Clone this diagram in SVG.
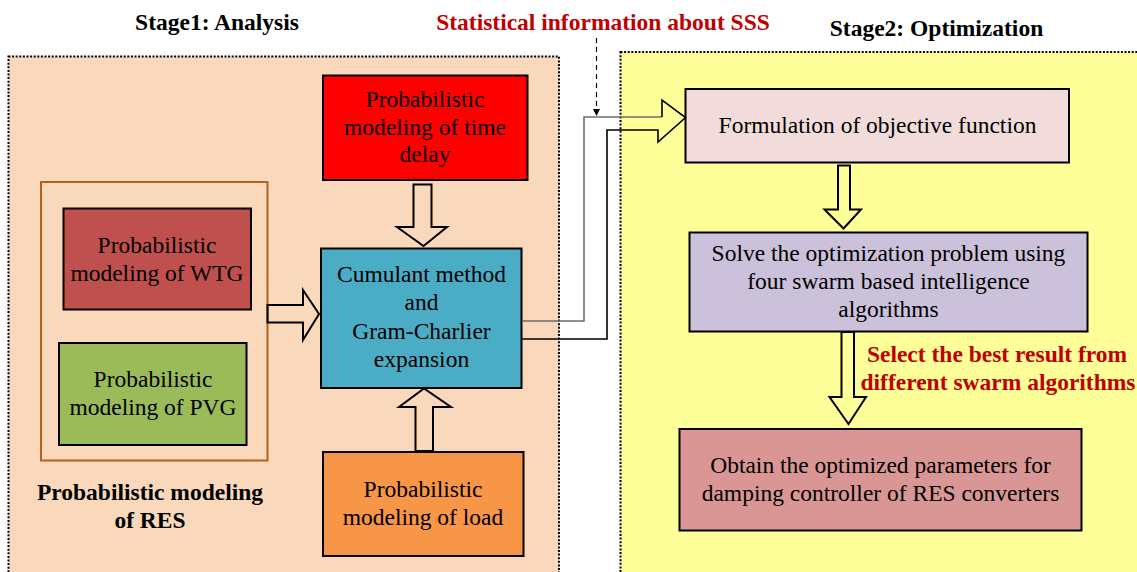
<svg xmlns="http://www.w3.org/2000/svg" width="1137" height="572" viewBox="0 0 1137 572">
  <defs>
    <style>
      .box { stroke: #000; stroke-width: 2; }
      .lbl { font-family: "Liberation Serif", "Times New Roman", serif; font-size: 23.5px; fill: #000; text-anchor: middle; }
      .ttl { font-family: "Liberation Serif", "Times New Roman", serif; font-size: 23.5px; font-weight: bold; text-anchor: middle; }
      .stage { stroke: #000; stroke-width: 2; stroke-dasharray: 2 1.6; }
      .fat { fill: none; stroke: #000; stroke-width: 2; stroke-linejoin: miter; }
      .wire { fill: none; stroke-width: 1.6; }
    </style>
    <marker id="tri" viewBox="0 0 10 10" refX="10" refY="5" markerWidth="7" markerHeight="7" markerUnits="userSpaceOnUse" orient="auto">
      <path d="M0,0 L10,5 L0,10 Z" fill="#000"/>
    </marker>
  </defs>

  <rect width="1137" height="572" fill="#fff"/>

  <!-- stage backgrounds -->
  <g id="stage1">
    <rect x="8.5" y="56.5" width="550.5" height="530" fill="#fad8bb" class="stage"/>
    <text class="ttl" x="217" y="30">Stage1: Analysis</text>
  </g>
  <g id="stage2">
    <rect x="620.5" y="52" width="530" height="540" fill="#ffff99" class="stage"/>
    <text class="ttl" x="936.5" y="36">Stage2: Optimization</text>
  </g>

  <!-- renewable energy sources group -->
  <g id="res-group">
    <rect x="41" y="182" width="226.5" height="278.5" fill="none" stroke="#b5621f" stroke-width="2"/>
    <text class="ttl" x="150" y="500">Probabilistic modeling</text>
    <text class="ttl" x="150" y="528">of RES</text>
  </g>

  <g id="wtg">
    <rect class="box" x="63.5" y="208.5" width="187.5" height="101" fill="#c0504d"/>
    <text class="lbl" x="157" y="252.5">Probabilistic</text>
    <text class="lbl" x="157" y="280.5">modeling of WTG</text>
  </g>

  <g id="pvg">
    <rect class="box" x="59" y="343" width="187.5" height="102" fill="#9bbb59"/>
    <text class="lbl" x="153" y="387">Probabilistic</text>
    <text class="lbl" x="153" y="415">modeling of PVG</text>
  </g>

  <g id="time-delay">
    <rect class="box" x="323" y="75.5" width="204.5" height="104.5" fill="#ff0000"/>
    <text class="lbl" x="425" y="107">Probabilistic</text>
    <text class="lbl" x="425" y="134.5">modeling of time</text>
    <text class="lbl" x="425" y="162">delay</text>
  </g>

  <g id="cumulant">
    <rect class="box" x="321" y="248.5" width="200.5" height="139.5" fill="#4bacc6"/>
    <text class="lbl" x="421.5" y="281.5">Cumulant method</text>
    <text class="lbl" x="421.5" y="310">and</text>
    <text class="lbl" x="421.5" y="338.5">Gram-Charlier</text>
    <text class="lbl" x="421.5" y="366.5">expansion</text>
  </g>

  <g id="load">
    <rect class="box" x="323" y="452" width="200.5" height="104" fill="#f79646"/>
    <text class="lbl" x="423" y="497">Probabilistic</text>
    <text class="lbl" x="423" y="525">modeling of load</text>
  </g>

  <g id="objective">
    <rect class="box" x="685.5" y="89" width="383.5" height="73.5" fill="#f2dcdb"/>
    <text class="lbl" x="877.5" y="133">Formulation of objective function</text>
  </g>

  <g id="solve">
    <rect class="box" x="689.5" y="232.5" width="398" height="99" fill="#ccc1da"/>
    <text class="lbl" x="888.5" y="261">Solve the optimization problem using</text>
    <text class="lbl" x="888.5" y="289">four swarm based intelligence</text>
    <text class="lbl" x="888.5" y="316.5">algorithms</text>
  </g>

  <g id="result">
    <rect class="box" x="679.5" y="429" width="402" height="101.5" fill="#d99694"/>
    <text class="lbl" x="880.5" y="473">Obtain the optimized parameters for</text>
    <text class="lbl" x="880.5" y="501">damping controller of RES converters</text>
  </g>

  <!-- annotations -->
  <g id="notes">
    <text class="ttl" x="603" y="30" fill="#c00000">Statistical information about SSS</text>
    <text class="ttl" x="997" y="362" fill="#c00000">Select the best result from</text>
    <text class="ttl" x="998" y="390" fill="#c00000">different swarm algorithms</text>
  </g>

  <!-- connectors -->
  <g id="connectors">
    <!-- block arrows -->
    <polygon class="fat" points="413.5,184.5 431.5,184.5 431.5,227 447,227 423.5,246 397,227 413.5,227"/>
    <polygon class="fat" points="267.5,305 303,305 303,290 319,314 303,340 303,322.5 267.5,322.5"/>
    <polygon class="fat" points="415.5,451 433,451 433,407 451,407 424,388.5 399,407 415.5,407"/>
    <polygon class="fat" points="838,165.5 850,165.5 850,209.5 861,209.5 843.5,228.5 824.5,209.5 838,209.5"/>
    <polygon class="fat" points="841.5,332 854,332 854,397 866,397 848.5,424 829.5,397 841.5,397"/>
    <!-- hollow arrow carrying results to stage 2 -->
    <path class="wire" stroke="#6e6e6e" d="M522,321 H584 V117 H662"/>
    <path class="wire" stroke="#000" d="M662,117 V100 L685.5,117.5 L658,142 V130 H607 V339 H522"/>
    <!-- statistical information feed -->
    <line x1="596.5" y1="38" x2="596.5" y2="116" stroke="#000" stroke-width="1.2" stroke-dasharray="5 4" marker-end="url(#tri)"/>
  </g>
</svg>
